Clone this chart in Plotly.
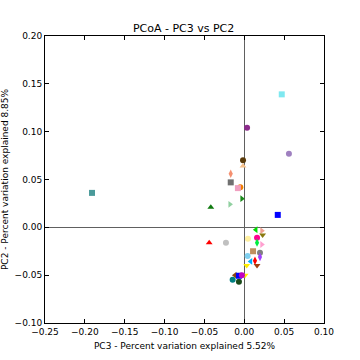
import plotly.graph_objects as go

pc3 = [0.047, 0.0035, 0.056, -0.0016, -0.0016, -0.017, -0.017, -0.005, -0.008, -0.003, -0.018, -0.042,
       -0.191, 0.042, -0.044, -0.023,
       0.0146, 0.022, 0.023, 0.0046, 0.016, 0.016, 0.022, 0.011, 0.0197, 0.0197, 0.0042, 0.008,
       0.0134, 0.016, 0.003, 0.001, -0.0117, -0.0067, -0.003, -0.0146, -0.0067]
pc2 = [0.139, 0.104, 0.077, 0.070, 0.064, 0.056, 0.047, 0.042, 0.041, 0.030, 0.024, 0.021,
       0.036, 0.013, -0.016, -0.016,
       -0.0025, -0.0035, -0.008, -0.012, -0.011, -0.016, -0.018, -0.025, -0.0265, -0.031, -0.030, -0.0356,
       -0.035, -0.040, -0.040, -0.050, -0.050, -0.0506, -0.050, -0.0548, -0.057]
colors = ["#7fe8f0", "#8b2a8b", "#9f80c0", "#5a3a0a", "#f5c08a", "#f59070", "#707070", "#f07f00", "#f0a0c0",
          "#1a8a1a", "#90d0a0", "#0f7a0f",
          "#4a9a9a", "#0000ff", "#ff0000", "#c0c0c0",
          "#00dd00", "#f0a090", "#8a7a10", "#fff0a0", "#ff0090", "#00ee40", "#ffa0d0", "#c09060", "#808080",
          "#a040ff", "#80d0f0", "#00b0ff", "#ff0000", "#a04010", "#ffee00", "#ffee00", "#8b4513", "#0000ff",
          "#c000c0", "#008080", "#1a4a1a"]
symbols = ["square", "circle", "circle", "circle", "triangle-up", "diamond-tall", "square", "circle", "square",
           "triangle-right", "triangle-right", "triangle-up",
           "square", "square", "triangle-up", "circle",
           "triangle-left", "triangle-right", "triangle-down", "circle", "circle", "diamond-tall", "triangle-right",
           "square", "circle", "diamond-tall", "circle", "triangle-left", "diamond-tall", "triangle-down",
           "triangle-down", "triangle-down", "triangle-left", "square", "circle", "circle", "circle"]

fig = go.Figure()
fig.add_trace(go.Scatter(x=pc3, y=pc2, mode="markers",
                         marker=dict(color=colors, symbol=symbols, size=6, line=dict(width=0)),
                         showlegend=False))

axis_common = dict(showgrid=False, ticks="inside", ticklen=4, tickcolor="black", showline=True,
                   linecolor="black", linewidth=1, mirror="ticks", zeroline=True,
                   zerolinecolor="#606060", zerolinewidth=1, automargin=False,
                   tickfont=dict(family="DejaVu Sans", size=9, color="black"))
fig.update_xaxes(range=[-0.25, 0.10], dtick=0.05, tickformat=".2f",
                 title=dict(text="PC3 - Percent variation explained 5.52%",
                            font=dict(family="DejaVu Sans", size=9, color="black"), standoff=6),
                 **axis_common)
fig.update_yaxes(range=[-0.10, 0.20], dtick=0.05, tickformat=".2f",
                 title=dict(text="PC2 - Percent variation explained 8.85%",
                            font=dict(family="DejaVu Sans", size=9, color="black"), standoff=8),
                 **axis_common)
fig.update_layout(width=360, height=360, plot_bgcolor="white", paper_bgcolor="white",
                  margin=dict(l=45, r=36, t=36, b=37),
                  title=dict(text="PCoA - PC3 vs PC2", x=0.51, xanchor="center", y=0.922, yanchor="middle",
                             font=dict(family="DejaVu Sans", size=11, color="black")),
                  separators=".\u2212")
fig.write_html("out.html", config={"displayModeBar": False},
               post_script="document.body.style.margin='0';")
